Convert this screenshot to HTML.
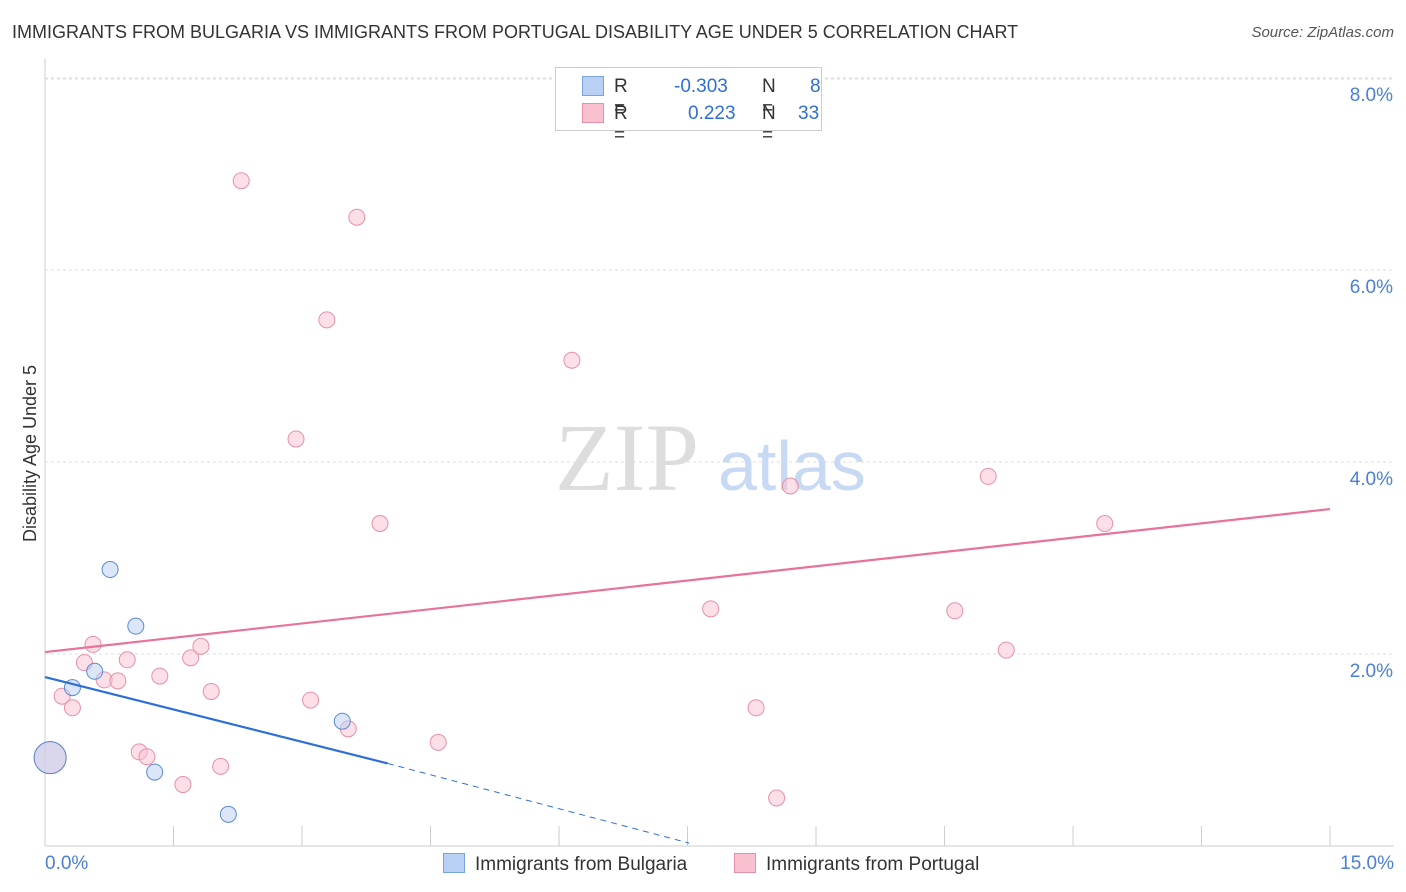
<!DOCTYPE html>
<html><head><meta charset="utf-8">
<style>
body{margin:0;background:#fff;font-family:"Liberation Sans",sans-serif;}
#wrap{position:relative;width:1406px;height:892px;overflow:hidden;}
.t{position:absolute;white-space:nowrap;}
</style></head><body>
<div id="wrap">
<div class="t" style="left:12px;top:22px;font-size:18px;color:#333;">IMMIGRANTS FROM BULGARIA VS IMMIGRANTS FROM PORTUGAL DISABILITY AGE UNDER 5 CORRELATION CHART</div>
<div class="t" style="right:12px;top:24px;font-size:15px;color:#555;font-style:italic;">Source: ZipAtlas.com</div>
<svg id="svg" width="1406" height="892" style="position:absolute;left:0;top:0"></svg>
</div>
<script>
const xTicks=[0,1.5,3,4.5,6,7.5,9,10.5,12,13.5,15];
const yTicks=[2,4,6,8];
const yTickLabels=["2.0%","4.0%","6.0%","8.0%"];
const bulgariaX=[0.06,0.32,0.58,0.76,1.06,1.28,2.14,3.47];
const bulgariaY=[0.92,1.65,1.82,2.88,2.29,0.77,0.33,1.30];
const portugalX=[0.06,0.20,0.32,0.46,0.56,0.69,0.85,0.96,1.10,1.19,1.34,1.61,1.70,1.82,1.94,2.05,2.29,2.93,3.10,3.29,3.54,3.64,3.91,4.59,6.15,7.77,8.30,8.54,8.70,10.62,11.01,11.22,12.37];
const portugalY=[0.92,1.56,1.44,1.91,2.10,1.73,1.72,1.94,0.98,0.93,1.77,0.64,1.96,2.08,1.61,0.83,6.93,4.24,1.52,5.48,1.22,6.55,3.36,1.08,5.06,2.47,1.44,0.50,3.75,2.45,3.85,2.04,3.36];
const portugalTrend=[[0,2.02],[15,3.51]];
const bulgariaTrend=[[0,1.76],[4.0,0.86]];
const bulgariaTrendDash=[[4.0,0.86],[7.52,0.03]];
const X=v=>45+v*85.67, Y=v=>846-v*96;
const svg=document.getElementById('svg');const NS='http://www.w3.org/2000/svg';
function el(tag,attrs,name){const e=document.createElementNS(NS,tag);for(const k in attrs)e.setAttribute(k,attrs[k]);


svg.appendChild(e);return e;}
el('line',{x1:45,y1:Y(8.2),x2:45,y2:846,stroke:'#ccc'},'y-axis');
el('line',{x1:45,y1:846,x2:1394,y2:846,stroke:'#ccc'},'x-axis');
el('line',{x1:45,y1:79,x2:1394,y2:79,stroke:'#ddd','stroke-dasharray':'3,3'},'gridline-top');
yTicks.forEach((t,i)=>{el('line',{x1:45,y1:Y(t),x2:1394,y2:Y(t),stroke:'#ddd','stroke-dasharray':'3,3'},'gridline');
const tx=el('text',{x:1393,y:Y(t)+23,'text-anchor':'end','font-size':19,fill:'#4a7fd6'},'y-tick-label');tx.textContent=yTickLabels[i];});
xTicks.forEach(t=>{if(t>0)el('line',{x1:X(t),y1:826,x2:X(t),y2:846,stroke:'#ccc'},'x-tick');});
let w=el('text',{x:555,y:490,'font-size':96,fill:'#ddd','font-family':'Liberation Serif'},'watermark-zip');w.textContent='ZIP';
w=el('text',{x:718,y:490,'font-size':70,fill:'#c8daf3'},'watermark-atlas');w.textContent='atlas';
function pts(xs,ys,fill,stroke,name){xs.forEach((x,i)=>{const r=i==0?16:8;el('circle',{cx:X(x),cy:Y(ys[i]),r:r,fill:fill,stroke:stroke,'stroke-width':1,'fill-opacity':0.5},name);});}
pts(portugalX,portugalY,'#f9c0d0','#e890a8','portugal-point');
pts(bulgariaX,bulgariaY,'#b8d0f4','#5a8ad0','bulgaria-point');
function ln(p,c,name,dash){const a={x1:X(p[0][0]),y1:Y(p[0][1]),x2:X(p[1][0]),y2:Y(p[1][1]),stroke:c,'stroke-width':dash?1:2.2};if(dash)a['stroke-dasharray']='6,5';el('line',a,name);}
ln(portugalTrend,'#e8729a','portugal-trend-line');
ln(bulgariaTrend,'#2e6fd6','bulgaria-trend-line');
ln(bulgariaTrendDash,'#2e6fd6','bulgaria-trend-extension',true);
</script>
<div style="position:absolute;left:555px;top:67px;width:265px;height:62px;border:1px solid #ccc;background:#fff;font-size:19px;color:#333;">
<div style="position:absolute;left:26px;top:8px;"><span style="display:inline-block;width:20px;height:18px;background:#b8d0f4;border:1px solid #7aa2dc;vertical-align:-3px;position:absolute;left:0"></span><span style="position:absolute;left:32px">R =</span><span style="position:absolute;left:92px;color:#2e6fd6">-0.303</span><span style="position:absolute;left:180px">N =</span><span style="position:absolute;left:228px;color:#2e6fd6">8</span></div>
<div style="position:absolute;left:26px;top:35px;"><span style="display:inline-block;width:20px;height:18px;background:#f9c0d0;border:1px solid #e890a8;position:absolute;left:0"></span><span style="position:absolute;left:32px">R =</span><span style="position:absolute;left:106px;color:#2e6fd6">0.223</span><span style="position:absolute;left:180px">N =</span><span style="position:absolute;left:216px;color:#2e6fd6">33</span></div>
</div>
<div class="t" style="left:-58px;top:443px;font-size:18px;color:#333;transform:rotate(-90deg);">Disability Age Under 5</div>
<div class="t" style="left:45px;top:853px;font-size:19px;color:#4a7fd6;">0.0%</div>
<div class="t" style="right:12px;top:853px;font-size:19px;color:#4a7fd6;">15.0%</div>
<div class="t" style="left:443px;top:853px;font-size:19px;color:#333;"><span style="display:inline-block;width:20px;height:18px;background:#b8d0f4;border:1px solid #7aa2dc;vertical-align:-3px;margin-right:10px"></span>Immigrants from Bulgaria</div>
<div class="t" style="left:734px;top:853px;font-size:19px;color:#333;"><span style="display:inline-block;width:20px;height:18px;background:#f9c0d0;border:1px solid #e890a8;vertical-align:-3px;margin-right:10px"></span>Immigrants from Portugal</div>
</body></html>
